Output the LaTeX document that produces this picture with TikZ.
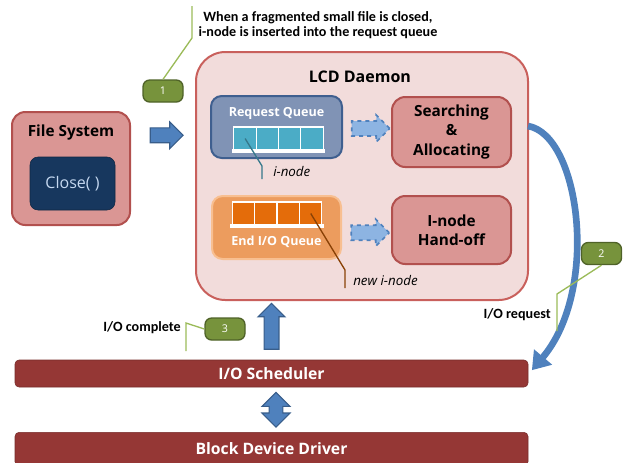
\documentclass[tikz,border=0pt]{standalone}
\usepackage{fontspec}
\setmainfont{Open Sans}
\newfontfamily\notefont{Carlito}
\usetikzlibrary{arrows.meta,positioning,shapes.arrows,calc}
\definecolor{pinkfill}{HTML}{DA9694}
\definecolor{pinkline}{HTML}{B2504E}
\definecolor{lcdfill}{HTML}{F2DCDB}
\definecolor{lcdline}{HTML}{C9605C}
\definecolor{navy}{HTML}{17375E}
\definecolor{navytext}{HTML}{C6D9F1}
\definecolor{slate}{HTML}{8093B5}
\definecolor{slateline}{HTML}{3F5F8F}
\definecolor{teal}{HTML}{4BACC6}
\definecolor{orangebox}{HTML}{EC9C5E}
\definecolor{orangeline}{HTML}{F8BF91}
\definecolor{orangecell}{HTML}{E46C0A}
\definecolor{barred}{HTML}{953735}
\definecolor{arrblue}{HTML}{4F81BD}
\definecolor{arrline}{HTML}{385D8A}
\definecolor{dashblue}{HTML}{8DB4E2}
\definecolor{callgreen}{HTML}{77933C}
\definecolor{callline}{HTML}{4F6228}
\definecolor{leadgreen}{HTML}{9BBB59}
\tikzset{
    %Define standard arrow tip
    >={Triangle[length=13pt,width=17pt]},
    %Define style for boxes
    pinkbox/.style={
           rectangle,
           rounded corners=10pt,
           draw=pinkline, line width=1.5pt,
           fill=pinkfill,
           align=center,
           font=\bfseries\fontsize{11.5}{14.5}\selectfont},
    queuebox/.style={
           rectangle,
           rounded corners=8pt,
           line width=1.5pt},
    cell/.style={
           rectangle,
           draw=white, line width=0.8pt,
           minimum width=16.8pt,
           minimum height=17.25pt,
           inner sep=0pt},
    bar/.style={
           rectangle,
           rounded corners=3pt,
           fill=barred, draw=barred!80!black,
           minimum width=384.75pt,
           text=white,
           font=\bfseries\fontsize{11.8}{13}\selectfont},
    callbox/.style={
           rectangle,
           rounded corners=5pt,
           fill=callgreen, draw=callline, line width=1pt,
           minimum width=30pt,
           minimum height=16.5pt,
           text=white,
           font=\fontsize{8}{9}\selectfont},
    notetext/.style={
           inner sep=0pt,
           align=center,
           font=\notefont\bfseries\fontsize{10.6}{11}\selectfont},
    labeltext/.style={
           inner sep=0pt,
           font=\itshape\fontsize{10}{11}\selectfont},
    % Define arrow style
    blockarr/.style={
           single arrow,
           fill=arrblue, draw=arrline, line width=0.8pt,
           single arrow head extend=4.5pt,
           minimum width=20pt,
           inner sep=5.2pt},
    dashedarr/.style={
           single arrow,
           fill=dashblue, draw=arrblue, line width=1.2pt,
           dashed,
           single arrow head extend=4.5pt,
           minimum width=19pt,
           minimum height=28.5pt,
           inner sep=5pt},
    lead/.style={
           draw=leadgreen, line width=1pt},
    pointer/.style={
           line width=1pt}
}

\begin{document}
\begin{tikzpicture}[x=0.75pt,y=-0.75pt]
    \useasboundingbox (0,0) rectangle (625,462);

    % FILE SYSTEM
    \node[pinkbox, minimum width=88.5pt, minimum height=84.75pt] (fs) at (71,168.5) {};
    \node[font=\bfseries\fontsize{11.5}{13}\selectfont] (fstitle) at (71,133) {File System};
    \node[rectangle, rounded corners=6pt, fill=navy, draw=navy!70!black,
          minimum width=63.75pt, minimum height=39.75pt, text=navytext,
          font=\fontsize{12}{14}\selectfont] (close) at (72.5,183.5) {Close( )};

    % LCD DAEMON
    \node[rectangle, rounded corners=22pt, fill=lcdfill, draw=lcdline, line width=1.5pt,
          minimum width=249pt, minimum height=186pt] (lcd) at (362,176) {};
    \node[font=\bfseries\fontsize{12}{14}\selectfont] (lcdtitle) at (360,77) {LCD Daemon};

    \node[blockarr, minimum height=24.75pt] (arrfs) at ($(fs.east)!0.5!(lcd.west)+(0,-37)$) {};

    % request queue
    \node[queuebox, fill=slate, draw=slateline, minimum width=98.25pt, minimum height=46.5pt] (rq) at (276.5,127) {};
    \node[text=white, font=\bfseries\fontsize{9.4}{11}\selectfont] (rqtitle) at (276.5,113) {Request Queue};
    \fill[white] (232,149) rectangle (325,153);
    \foreach \i in {0,...,3}
        \node[cell, fill=teal] (rq\i) at (245.1+22.25*\i,138.5) {};
    \coordinate (rqbend) at (262,166);
    \coordinate (rqfoot) at (262,179);
    \draw[pointer, draw=teal!70!black] (rq0.center) -- (rqbend) -- (rqfoot);
    \node[labeltext, anchor=west] (inode) at (273,171) {i-node};

    % end I/O queue
    \node[queuebox, fill=orangebox, draw=orangeline, minimum width=96.75pt, minimum height=47.25pt] (eq) at (276.5,227.5) {};
    \fill[white] (230,224) rectangle (324,228);
    \foreach \i in {0,...,3}
        \node[cell, fill=orangecell] (eq\i) at (243.25+22.5*\i,213.5) {};
    \node[text=white, font=\bfseries\fontsize{9.4}{11}\selectfont] (eqtitle) at (276.5,242) {End I/O Queue};
    \coordinate (eqbend) at (345,270);
    \coordinate (eqfoot) at (345,288);
    \draw[pointer, draw=orangecell!60!black] (eq3.center) -- (eqbend) -- (eqfoot);
    \node[labeltext, anchor=west] (newinode) at (353,280) {new i-node};

    % workers
    \node[pinkbox, minimum width=89.25pt, minimum height=52.5pt, inner sep=2pt] (sa) at (451.5,132) {Searching\\\&\\Allocating};
    \node[pinkbox, minimum width=89.25pt, minimum height=51pt] (ho) at (451.5,230) {I-node\\Hand-off};

    \node[dashedarr] (arrrq) at ($(rq.east)!0.5!(sa.west)+(0,-1)$) {};
    \node[dashedarr] (arreq) at ($(eq.east)!0.5!(ho.west)+(0,4)$) {};

    % LOWER LAYERS
    \node[bar, minimum height=20.25pt] (sched) at (271.5,373.5) {I/O Scheduler};
    \node[bar, minimum height=25pt] (bdd) at (271.5,449) {Block Device Driver};
    \node[blockarr, shape border rotate=90, minimum height=34.5pt] (arrup) at (271.5,330) {};
    \node[double arrow, fill=arrblue, draw=arrline, line width=0.8pt,
          double arrow head extend=5pt, minimum width=21pt, minimum height=26pt,
          shape border rotate=90, inner sep=4.5pt] (arrdbl) at ($(sched.south)!0.5!(bdd.north)+(4.5,0)$) {};

    % request path
    \coordinate (reqstart) at (528,126);
    \draw[arrblue, line width=5pt, ->, shorten >=-2pt]
        (reqstart) .. controls (580,135) and (600,290) .. ([xshift=4,yshift=4]sched.east);

    % CALLOUTS
    \node[callbox] (c1) at (163,91) {1};
    \coordinate (c1bend) at (192,38);
    \coordinate (c1top) at (192,6);
    \draw[lead] (c1.north) -- (c1bend) -- (c1top);
    \node[notetext] (note1) at (318,25) {When a fragmented small file is closed,\\i-node is inserted into the request queue};

    \node[callbox] (c2) at (601.5,253.5) {2};
    \coordinate (c2bend) at (557,294);
    \coordinate (c2foot) at (557,331);
    \draw[lead] (c2.south) -- (c2bend) -- (c2foot);
    \node[notetext, anchor=east] (note2) at (551,315) {I/O request};

    \node[callbox] (c3) at (225,329) {3};
    \coordinate (c3bend) at (186,323);
    \coordinate (c3foot) at (186,351);
    \draw[lead] (c3.west) -- (c3bend) -- (c3foot);
    \node[notetext, anchor=east] (note3) at (181,328) {I/O complete};

\end{tikzpicture}
\end{document}
